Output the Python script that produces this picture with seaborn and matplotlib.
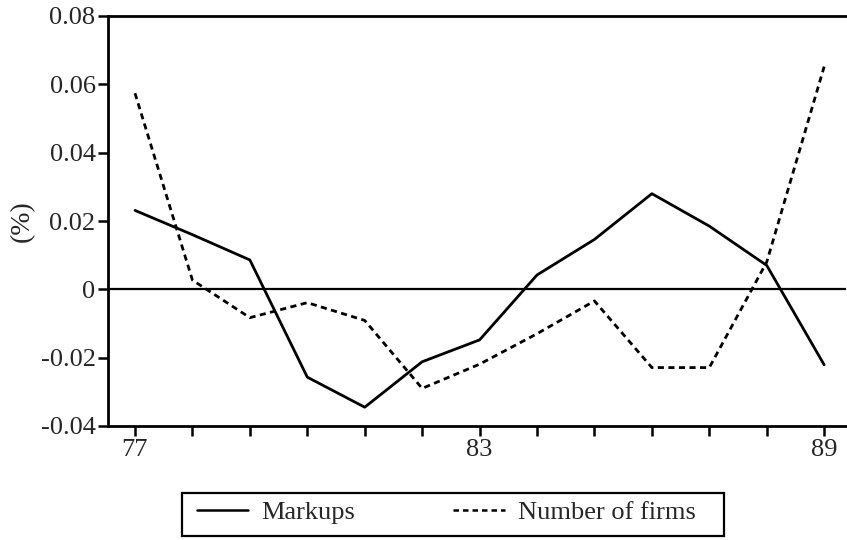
import matplotlib
matplotlib.use("Agg")
import matplotlib.pyplot as plt
import seaborn as sns
import pandas as pd
from matplotlib.lines import Line2D
from matplotlib.patches import Rectangle

# Annual deviations, 1977-1989
years = [77, 78, 79, 80, 81, 82, 83, 84, 85, 86, 87, 88, 89]
markups = [0.0231, 0.0160, 0.0086, -0.0257, -0.0345, -0.0212, -0.0148,
           0.0042, 0.0146, 0.0280, 0.0185, 0.0070, -0.0221]
num_firms = [0.0574, 0.0027, -0.0083, -0.0039, -0.0091, -0.0290, -0.0219,
             -0.0130, -0.0034, -0.0229, -0.0229, 0.0080, 0.0652]
series_names = ["Markups", "Number of firms"]
y_ticks = [-0.04, -0.02, 0.0, 0.02, 0.04, 0.06, 0.08]
y_tick_labels = ["-0.04", "-0.02", "0", "0.02", "0.04", "0.06", "0.08"]
x_labelled = [77, 83, 89]

df = pd.DataFrame({
    "year": years * 2,
    "value": markups + num_firms,
    "series": [series_names[0]] * len(years) + [series_names[1]] * len(years),
})

sns.set_theme(style="white")
plt.rcParams["font.family"] = ["Liberation Serif", "DejaVu Serif"]
plt.rcParams["font.size"] = 19

W, H = 847, 540
fig = plt.figure(figsize=(W / 100, H / 100), dpi=100)
ax = fig.add_axes([108 / W, 1 - 426 / H, (846 - 108) / W, (426 - 16) / H])

dash_pattern = (2.2, 1.6)
sns.lineplot(data=df, x="year", y="value", style="series",
             dashes={series_names[0]: "", series_names[1]: dash_pattern},
             color="black", linewidth=2.0, ax=ax, legend=False)

ax.axhline(0, color="black", linewidth=1.6, zorder=1)

ax.set_xlim(76.53, 89.38)
ax.set_ylim(-0.04, 0.08)
ax.set_xticks(years)
ax.set_xticklabels([str(y) if y in x_labelled else "" for y in years])
ax.set_yticks(y_ticks)
ax.set_yticklabels(y_tick_labels)
ax.set_xlabel("")
ax.set_ylabel("(%)", fontsize=20, labelpad=4)

for side in ["left", "bottom", "top"]:
    ax.spines[side].set_visible(True)
    ax.spines[side].set_color("black")
    ax.spines[side].set_linewidth(2.0)
ax.spines["right"].set_visible(False)

ax.tick_params(axis="both", which="major", direction="out", length=7,
               width=1.8, color="black", labelsize=19, pad=2,
               bottom=True, left=True, top=False, right=False)

# Legend entries, laid out in one row, with a plain box around them
handles = [
    Line2D([], [], color="black", linewidth=1.8),
    Line2D([], [], color="black", linewidth=1.8, dashes=dash_pattern),
]
fig.legend(handles, series_names, loc="center left",
           bbox_to_anchor=(197 / W, 1 - 512 / H),
           ncol=2, fontsize=19, frameon=False,
           borderpad=0, handlelength=1.95,
           handletextpad=0.5, columnspacing=3.7, borderaxespad=0)
fig.patches.append(Rectangle((182 / W, 1 - 536 / H), (724 - 182) / W, (536 - 493) / H,
                             transform=fig.transFigure, fill=False,
                             edgecolor="black", linewidth=1.6))

fig.savefig("out.png", dpi=100, facecolor="white")
